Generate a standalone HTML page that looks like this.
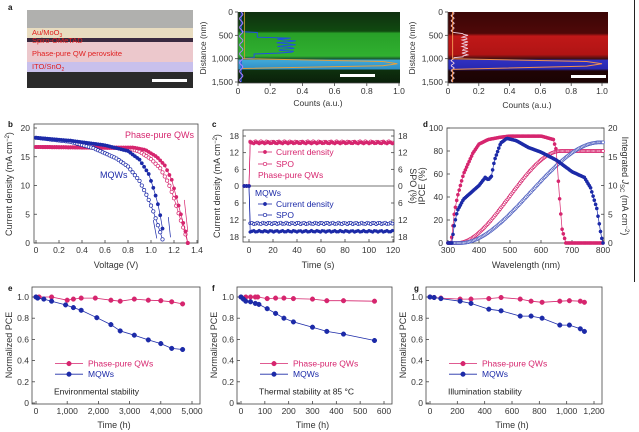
<!DOCTYPE html>
<html><head><meta charset="utf-8">
<style>
html,body{margin:0;padding:0;background:#fff;}
svg{display:block;font-family:"Liberation Sans",Arial,sans-serif;}
</style></head>
<body>
<svg id="s" width="639" height="432" viewBox="0 0 639 432" xmlns="http://www.w3.org/2000/svg">
<defs>
<linearGradient id="gB" x1="0" y1="0" x2="0" y2="1">
<stop offset="0" stop-color="#103010"/><stop offset="0.27" stop-color="#104a10"/>
<stop offset="0.3" stop-color="#28a028"/><stop offset="0.62" stop-color="#30b030"/>
<stop offset="0.66" stop-color="#1a5a30"/><stop offset="0.68" stop-color="#40a8d8"/>
<stop offset="0.8" stop-color="#3090c8"/><stop offset="0.82" stop-color="#0e300e"/>
<stop offset="1" stop-color="#0a200a"/></linearGradient>
<linearGradient id="rB" x1="0" y1="0" x2="0" y2="1">
<stop offset="0" stop-color="#3a0606"/><stop offset="0.3" stop-color="#500808"/>
<stop offset="0.34" stop-color="#c01818"/><stop offset="0.6" stop-color="#b01414"/>
<stop offset="0.66" stop-color="#401010"/><stop offset="0.68" stop-color="#3030c0"/>
<stop offset="0.8" stop-color="#2828b0"/><stop offset="0.83" stop-color="#200404"/>
<stop offset="1" stop-color="#1a0303"/></linearGradient>
</defs>
<g id="g"></g>
</svg>
<script>
var G=document.getElementById('g'),out='';
function t(x,y,s,o){o=o||{};out+='<text x="'+x+'" y="'+y+'" font-size="'+(o.fs||8.5)+'" fill="'+(o.c||'#333')+'" text-anchor="'+(o.a||'middle')+'"'+(o.w?' font-weight="bold"':'')+(o.r?' transform="rotate('+o.r+' '+x+' '+y+')"':'')+'>'+s+'</text>';}
function l(x1,y1,x2,y2,c,w){out+='<line x1="'+x1+'" y1="'+y1+'" x2="'+x2+'" y2="'+y2+'" stroke="'+(c||'#444')+'" stroke-width="'+(w||0.8)+'"/>';}
function r(x,y,w,h,f,s){out+='<rect x="'+x+'" y="'+y+'" width="'+w+'" height="'+h+'" fill="'+(f||'none')+'"'+(s?' stroke="'+s+'" stroke-width="0.8"':'')+'/>';}
function path(pts,c,w){out+='<polyline points="'+pts.map(p=>p[0].toFixed(1)+','+p[1].toFixed(1)).join(' ')+'" fill="none" stroke="'+c+'" stroke-width="'+(w||1)+'"/>';}
function mk(pts,c,open,rad){pts.forEach(p=>{out+='<circle cx="'+p[0].toFixed(1)+'" cy="'+p[1].toFixed(1)+'" r="'+rad+'" fill="'+(open?'#fff':c)+'" stroke="'+c+'" stroke-width="'+(open?0.7:0.5)+'"/>';});}
function interp(tab,x){for(var i=0;i<tab.length-1;i++){if(x>=tab[i][0]&&x<=tab[i+1][0]){var f=(x-tab[i][0])/(tab[i+1][0]-tab[i][0]);return tab[i][1]+f*(tab[i+1][1]-tab[i][1]);}}return tab[tab.length-1][1];}
var PK='#d6256e',BL='#1c2aa8';

/* ---------- panel a ---------- */
t(8,10,'a',{w:1,c:'#111',a:'start',fs:8});
r(27,10,166,18,'#b0b0ae');r(27,28,166,10,'#e8dcc0');r(27,38,166,4,'#3a2a40');
r(27,42,166,20,'#ecc8cc');r(27,62,166,10,'#c8c0ec');r(27,72,166,16,'#2a2a2a');
t(32,35,'Au/MoO<tspan font-size="5" dy="2">3</tspan>',{c:'#e02020',a:'start',fs:7.5});
t(32,43,'Spiro-OMeTAD',{c:'#e02020',a:'start',fs:7.5});
t(32,56,'Phase-pure QW perovskite',{c:'#e02020',a:'start',fs:7.5});
t(32,69,'ITO/SnO<tspan font-size="5" dy="2">2</tspan>',{c:'#e02020',a:'start',fs:7.5});
r(152,79,35,3,'#fff');
// green map
r(238,12,162,71,'url(#gB)');
var px=v=>238+v*161, py=d=>12+d/1500*70;
var blue=[],yel=[],pur=[];
for(var d=0;d<=1500;d+=20){var v=0.02;if(d>420&&d<560)v=0.12;if(d>=560&&d<900)v=0.3+0.06*Math.sin(d/12);if(d>=900&&d<=980)v=0.1;if(d>980&&d<1020)v=0.04;blue.push([px(v),py(d)]);
var yv=0.03;if(d>1000&&d<1200)yv=0.05+0.9*(d-1000)/200;if(d>=1180&&d<1200)yv=1;yel.push([px(Math.min(yv,1)),py(d)]);pur.push([px(0.02+0.01*Math.sin(d/30)),py(d)]);}
path(blue,'#2050e0',1);path([[px(0.03),py(1000)],[px(0.9),py(1060)],[px(0.99),py(1110)],[px(0.9),py(1150)],[px(0.03),py(1210)]],'#e0a040',1);
path(pur,'#b080ff',1);path([[px(0.04),py(0)],[px(0.04),py(1000)]],'#d0a030',0.8);
r(340,74,35,3,'#fff');
l(238,12,238,83);l(238,83,400,83);
[0,500,1000,1500].forEach(d=>{l(235,py(d),238,py(d));t(233,py(d)+3,d==0?'0':d.toLocaleString('en-US'),{a:'end'});});
[0,0.2,0.4,0.6,0.8,1.0].forEach(v=>{l(px(v),83,px(v),86);t(px(v),94,v==0?'0':v.toFixed(1));});
t(318,106,'Counts (a.u.)');t(206,48,'Distance (nm)',{r:-90});
// red map
r(448,12,160,71,'url(#rB)');
var qx=v=>448+v*154, qy=d=>12+d/1500*70;
var w=[];for(d=0;d<=1500;d+=20){var v=0.03+0.01*Math.sin(d/17);if(d>450&&d<980)v=0.11+0.02*Math.sin(d/11);w.push([qx(v),qy(d)]);}
path(w,'#f0d0e0',0.9);
path([[qx(0.03),qy(0)],[qx(0.03),qy(1000)],[qx(0.9),qy(1060)],[qx(1.0),qy(1110)],[qx(0.9),qy(1160)],[qx(0.03),qy(1230)],[qx(0.03),qy(1500)]],'#f09050',1);
r(571,75,35,3,'#fff');
l(448,12,448,83);l(448,83,608,83);
[0,500,1000,1500].forEach(d=>{l(445,qy(d),448,qy(d));t(443,qy(d)+3,d==0?'0':d.toLocaleString('en-US'),{a:'end'});});
[0,0.2,0.4,0.6,0.8,1.0].forEach(v=>{l(qx(v),83,qx(v),86);t(qx(v),94,v==0?'0':v.toFixed(1));});
t(527,108,'Counts (a.u.)');t(415,48,'Distance (nm)',{r:-90});

/* ---------- panel b ---------- */
t(8,127,'b',{w:1,c:'#111',a:'start',fs:8});
var bx=V=>36+V*115, by=J=>243-J*5.75;
r(34,124,164,119,null,'#444');
[0,0.2,0.4,0.6,0.8,1.0,1.2,1.4].forEach(v=>{l(bx(v),243,bx(v),240);t(bx(v),253,v==0?'0':v.toFixed(1));});
[0,5,10,15,20].forEach(j=>{l(34,by(j),37,by(j));t(30,by(j)+3,j,{a:'end'});});
t(116,268,'Voltage (V)',{fs:9});t(12,184,'Current density (mA cm<tspan font-size="6" dy="-3">−2</tspan><tspan dy="3">)</tspan>',{r:-90,fs:9});
var pkF=[[0,16.7],[0.85,16.6],[0.95,16.2],[1.05,15],[1.12,13.5],[1.18,11],[1.22,8],[1.26,5],[1.3,2],[1.32,0]];
var pkO=[[0,16.7],[0.8,16.5],[0.9,15.9],[1.0,14.6],[1.08,13],[1.15,10.5],[1.2,7.8],[1.25,4.5],[1.3,1.5],[1.32,0]];
var blF=[[0,18.3],[0.3,17.8],[0.6,17],[0.8,16],[0.9,14.5],[0.98,12],[1.03,9],[1.07,6],[1.1,2.5],[1.11,0]];
var blO=[[0,18.3],[0.3,17.6],[0.5,16.5],[0.7,14.7],[0.8,13.3],[0.9,10.8],[0.97,8],[1.02,5.5],[1.07,2.5],[1.11,0]];
function curve(tab,end,c,open){var pts=[];for(var V=0;V<=end+0.001;V+=0.02)pts.push([bx(V),by(interp(tab,V))]);path(pts,c,0.7);mk(pts,c,open,1.7);}
curve(pkO,1.32,PK,true);curve(pkF,1.32,PK,false);curve(blO,1.11,BL,true);curve(blF,1.11,BL,false);
path([[bx(1.29),by(7.5)],[bx(1.32),by(2)]],PK,0.7);path([[bx(1.02),by(4)],[bx(1.05),by(0.8)]],BL,0.7);path([[bx(1.15),by(4.5)],[bx(1.17),by(1)]],BL,0.7);
t(125,138,'Phase-pure QWs',{c:PK,a:'start',fs:9});t(100,178,'MQWs',{c:BL,a:'start',fs:9});

/* ---------- panel c ---------- */
t(212,127,'c',{w:1,c:'#111',a:'start',fs:8});
var cx=s=>249+s*1.2;
r(243,130,151,112,null,'#444');l(243,186,394,186);
var cyT=v=>186-v*50/18, cyB=v=>186+v*51/18;
[0,20,40,60,80,100,120].forEach(s=>{l(cx(s),242,cx(s),239);t(cx(s),253,s);});
[18,12,6].forEach(v=>{t(239,cyT(v)+3,v,{a:'end'});l(243,cyT(v),246,cyT(v));t(398,cyT(v)+3,v,{a:'start'});l(394,cyT(v),391,cyT(v));});
t(239,189,'0',{a:'end'});t(398,189,'0',{a:'start'});
[6,12,18].forEach(v=>{t(239,cyB(v)+3,v,{a:'end'});l(243,cyB(v),246,cyB(v));t(398,cyB(v)+3,v,{a:'start'});l(394,cyB(v),391,cyB(v));});
t(318,268,'Time (s)',{fs:9});t(220,186,'Current density (mA cm<tspan font-size="6" dy="-3">−2</tspan><tspan dy="3">)</tspan>',{r:-90,fs:9});
t(410,186,'SPO (%)',{r:90,fs:9});
function cser(v,f,c,open,ph){var pts=[[cx(-4),186],[cx(-2),186],[cx(0),186]];for(var s=1;s<=120;s+=1.5)pts.push([cx(s),f(v+0.25*Math.sin(s*1.3+ph))]);path(pts,c,0.7);mk(pts,c,open,1.5);}
cser(15.8,cyT,PK,true,1);cser(15.5,cyT,PK,false,0);cser(13.2,cyB,BL,true,2);cser(16,cyB,BL,false,0);
l(258,152,272,152,PK);mk([[265,152]],PK,false,1.7);t(276,155,'Current density',{c:PK,a:'start',fs:8.5});
l(258,164,272,164,PK);mk([[265,164]],PK,true,1.7);t(276,167,'SPO',{c:PK,a:'start',fs:8.5});
t(258,178,'Phase-pure QWs',{c:PK,a:'start',fs:8.5});
t(255,196,'MQWs',{c:BL,a:'start',fs:8.5});
l(258,204,272,204,BL);mk([[265,204]],BL,false,1.7);t(276,207,'Current density',{c:BL,a:'start',fs:8.5});
l(258,215,272,215,BL);mk([[265,215]],BL,true,1.7);t(276,218,'SPO',{c:BL,a:'start',fs:8.5});

/* ---------- panel d ---------- */
t(423,127,'d',{w:1,c:'#111',a:'start',fs:8});
var dx=L=>448+(L-300)*0.31, dy=v=>243-v*1.15;
r(447,128,157,115,null,'#444');
[300,400,500,600,700,800].forEach(L=>{l(dx(L),243,dx(L),240);t(dx(L),253,L);});
[0,20,40,60,80,100].forEach(v=>{l(447,dy(v),450,dy(v));t(443,dy(v)+3,v,{a:'end'});});
[0,5,10,15,20].forEach(v=>{l(604,dy(v*5),601,dy(v*5));t(608,dy(v*5)+3,v,{a:'start'});});
t(526,268,'Wavelength (nm)',{fs:9});t(425,186,'IPCE (%)',{r:-90,fs:9});
t(622,186,'Integrated <tspan font-style="italic">J</tspan><tspan font-size="6" dy="2">SC</tspan><tspan dy="-2"> (mA cm</tspan><tspan font-size="6" dy="-3">−2</tspan><tspan dy="3">)</tspan>',{r:90,fs:9});
var ipP=[[300,0],[310,0],[320,25],[330,40],[350,60],[380,78],[400,86],[430,90],[470,92],[500,93],[600,93],[640,90],[650,80],[658,45],[668,12],[680,0],[800,0]];
var ipB=[[300,0],[312,0],[320,15],[330,28],[350,38],[400,50],[420,57],[430,55],[440,58],[450,72],[470,87],[490,91],[520,89],[560,83],[600,79],[650,72],[700,62],[740,57],[760,48],[780,30],[795,5],[800,0]];
function sig(L,a,b,m){if(L<a)return 0;if(L>b)return m;var f=(L-a)/(b-a);return m*f*f*(3-2*f);}
var P=[],B=[],IP=[],IB=[];
for(var L=300;L<=800;L+=4){P.push([dx(L),dy(interp(ipP,L))]);B.push([dx(L),dy(interp(ipB,L))]);
IP.push([dx(L),dy(5*sig(L,330,665,16))]);IB.push([dx(L),dy(5*sig(L,340,790,17.5))]);}
path(IP,PK,0.6);mk(IP,PK,true,1.5);path(IB,'#5060c0',0.6);mk(IB,'#5060c0',true,1.5);
path(P,PK,0.7);mk(P,PK,false,1.6);path(B,BL,0.7);mk(B,BL,false,1.6);

/* ---------- bottom panels ---------- */
function stab(letter,lx,x0,x1,xmax,ticks,tlab,ppd,mqd,note){
 var X=v=>x0+v/xmax*(x1-x0), Y=v=>403-v*106;
 t(lx,291,letter,{w:1,c:'#111',a:'start',fs:8});
 r(x0-4,287,x1-x0+12,117,null,'#444');
 ticks.forEach((v,i)=>{l(X(v),404,X(v),401);t(X(v),414,tlab[i]);});
 [0,0.2,0.4,0.6,0.8,1.0].forEach(v=>{l(x0-4,Y(v),x0-1,Y(v));t(x0-7,Y(v)+3,v==0?'0':v.toFixed(1),{a:'end'});});
 t((x0+x1)/2,428,'Time (h)',{fs:9});t(x0-24,345,'Normalized PCE',{r:-90,fs:9});
 var pp=ppd.map(p=>[X(p[0]),Y(p[1])]),mq=mqd.map(p=>[X(p[0]),Y(p[1])]);
 path(pp,PK,0.8);mk(pp,PK,false,2.3);path(mq,BL,0.8);mk(mq,BL,false,2.3);
 var lg=x0+19;l(lg,Y(0.4)+3,lg+28,Y(0.4)+3,PK);mk([[lg+14,Y(0.4)+3]],PK,false,2.3);t(lg+33,Y(0.4)+6,'Phase-pure QWs',{c:PK,a:'start',fs:8.5});
 l(lg,Y(0.3)+3,lg+28,Y(0.3)+3,BL);mk([[lg+14,Y(0.3)+3]],BL,false,2.3);t(lg+33,Y(0.3)+6,'MQWs',{c:BL,a:'start',fs:8.5});
 t(x0+18,Y(0.08),note,{a:'start',fs:8.5,c:'#222'});
}
stab('e',8,36,192,5000,[0,1000,2000,3000,4000,5000],['0','1,000','2,000','3,000','4,000','5,000'],
[[0,1],[100,1],[500,1],[1000,.97],[1200,.98],[1450,.99],[1900,.99],[2400,.97],[2700,.96],[3150,.98],[3600,.97],[4000,.965],[4350,.955],[4700,.935]],
[[0,1],[50,.99],[250,.98],[500,.96],[950,.925],[1200,.9],[1450,.875],[1950,.805],[2400,.74],[2700,.68],[3150,.64],[3600,.595],[4000,.56],[4350,.515],[4700,.505]],'Environmental stability');
stab('f',212,241,384,600,[0,100,200,300,400,500,600],['0','100','200','300','400','500','600'],
[[0,1],[20,1],[40,1],[60,1],[70,1],[110,.985],[145,.99],[180,.99],[220,.985],[300,.98],[360,.965],[430,.965],[560,.96]],
[[0,1],[10,.98],[20,.96],[40,.955],[60,.94],[75,.93],[110,.89],[145,.845],[180,.8],[220,.765],[300,.715],[360,.675],[430,.65],[560,.59]],'Thermal stability at 85 °C');
stab('g',414,430,594,1200,[0,200,400,600,800,1000,1200],['0','200','400','600','800','1,000','1,200'],
[[0,1],[30,.995],[80,.99],[220,.98],[300,.98],[430,.985],[520,.995],[660,.98],[740,.96],[820,.95],[950,.96],[1020,.965],[1100,.96],[1130,.95]],
[[0,1],[30,.995],[80,.985],[220,.96],[300,.94],[430,.885],[520,.87],[660,.82],[740,.82],[820,.8],[950,.735],[1020,.735],[1100,.7],[1130,.675]],'Illumination stability');
l(634.5,0,634.5,282,'#222',1);
G.innerHTML=out;
</script>
</body></html>
